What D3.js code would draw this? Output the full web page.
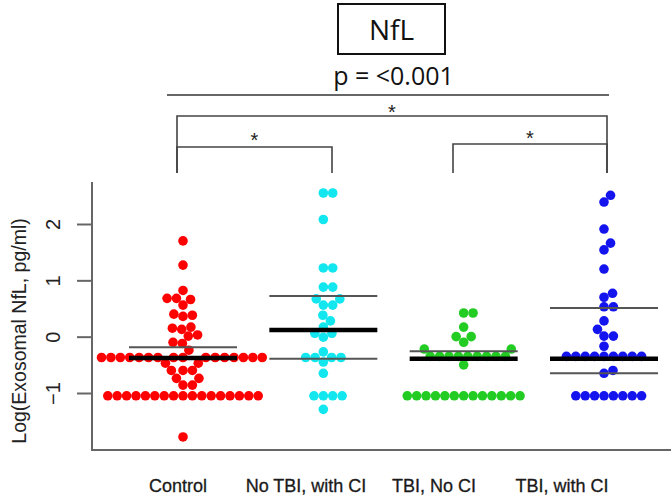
<!DOCTYPE html>
<html><head><meta charset="utf-8">
<script src="https://cdn.jsdelivr.net/npm/d3@7"></script>
<style>html,body{margin:0;padding:0;background:#fff;}svg{display:block;}</style>
</head><body>
<svg id="c" width="671" height="498"></svg>
<script>
// ---------- data ----------
const groups = ["Control", "No TBI, with CI", "TBI, No CI", "TBI, with CI"];
const colors = ["#ff0000", "#12e6ee", "#22cc22", "#1414ee"];
const controlVals = [1.7, 1.27, 0.82, 0.68, 0.68, 0.66, 0.56, 0.4, 0.36, 0.38, 0.15, 0.17, 0.13, 0.03, 0.01, -0.12, -0.1, -0.24,
  -0.37,-0.37,-0.37,-0.37,-0.37,-0.37,-0.37,-0.37,-0.37,-0.37,-0.37,-0.37,-0.37,-0.37,-0.37,-0.37,
  -0.47, -0.47, -0.6, -0.6, -0.6, -0.74, -0.74, -0.86, -0.86,
  -1.05,-1.05,-1.05,-1.05,-1.05,-1.05,-1.05,-1.05,-1.05,-1.05,-1.05,-1.05,-1.05,-1.05,-1.05,-1.05,-1.05,
  -1.78];
const noTbiCiVals = [2.55, 2.55, 2.08, 1.22, 1.22, 0.88, 0.88, 0.67, 0.67, 0.56, 0.56, 0.38, 0.28, 0.17, 0.06, 0.06, -0.01,
  -0.27, -0.37, -0.37, -0.37, -0.37, -0.45, -0.65, -1.05, -1.05, -1.05, -1.05, -1.29];
const tbiNoCiVals = [0.42, 0.42, 0.17, 0.0, 0.0, -0.1, -0.22, -0.22,
  -0.35,-0.35,-0.35,-0.35,-0.35,-0.35,-0.35,-0.35,-0.35,
  -0.5,
  -1.05,-1.05,-1.05,-1.05,-1.05,-1.05,-1.05,-1.05,-1.05,-1.05,-1.05,-1.05,-1.05];
const tbiCiVals = [2.51, 2.39, 1.91, 1.66, 1.54, 1.2, 0.77, 0.7, 0.53, 0.53, 0.28, 0.13, 0.01, 0.01, -0.17,
  -0.35,-0.35,-0.35,-0.35,-0.35,-0.35,-0.35,-0.35,-0.35,
  -0.6, -0.65,
  -1.05,-1.05,-1.05,-1.05,-1.05,-1.05,-1.05,-1.05];
const seriesValues = [controlVals, noTbiCiVals, tbiNoCiVals, tbiCiVals];
const medians = [-0.38, 0.12, -0.39, -0.39];
const upperLines = [-0.19, 0.72, -0.26, 0.51];
const lowerLines = [null, -0.39, null, -0.65];
const yTicks = [-1, 0, 1, 2];
const yTickLabels = ["\u22121", "0", "1", "2"];
const yTitle = "Log(Exosomal NfL, pg/ml)";
const title = "NfL";
const pText = "p = <0.001";
// comparisons: [groupA, groupB, level]
const comparisons = [[0, 3, "big"], [0, 1, "left"], [2, 3, "right"]];

// ---------- layout ----------
const svg = d3.select("#c");
const y = d3.scaleLinear().domain([-1, 2]).range([393, 224]);
const x = d3.scalePoint().domain(groups).range([183, 604]);
const xLab = d3.scalePoint().domain(groups).range([178, 562]);
const R = 4.8, D = 9.4;

function swarm(vals, cx) {
  const pts = vals.map(v => ({v, py: y(v)})).sort((a, b) => a.v - b.v);
  const placed = [];
  for (const p of pts) {
    const cands = [0];
    for (const q of placed) {
      const dy = Math.abs(p.py - q.py);
      if (dy < D) { const dx = Math.sqrt(D * D - dy * dy); cands.push(q.ox + dx, q.ox - dx); }
    }
    cands.sort((a, b) => Math.abs(a) - Math.abs(b) || b - a);
    for (const c of cands) {
      let ok = true;
      for (const q of placed) {
        const dx = c - q.ox, dy = p.py - q.py;
        if (dx * dx + dy * dy < D * D - 1e-6) { ok = false; break; }
      }
      if (ok) { p.ox = c; break; }
    }
    placed.push(p);
  }
  return placed.map(p => ({v: p.v, cx: cx + p.ox}));
}

// axes frame
const axisColor = "#666";
svg.append("line").attr("x1", 92).attr("x2", 92).attr("y1", 182).attr("y2", 450)
  .attr("stroke", axisColor).attr("stroke-width", 2);
svg.append("line").attr("x1", 91).attr("x2", 671).attr("y1", 450).attr("y2", 450)
  .attr("stroke", axisColor).attr("stroke-width", 2.2);

const yAxis = d3.axisLeft(y).tickValues(yTicks).tickSize(15).tickFormat((d, i) => yTickLabels[i]);
const ga = svg.append("g").attr("transform", "translate(92,0)").call(yAxis);
ga.select(".domain").remove();
ga.selectAll(".tick line").attr("stroke", axisColor).attr("stroke-width", 2);
ga.selectAll(".tick text")
  .attr("x", null).attr("dy", null)
  .attr("transform", "translate(-32,0) rotate(-90)")
  .attr("text-anchor", "middle")
  .attr("font-family", "Liberation Sans, Arial, sans-serif")
  .attr("font-size", 20).attr("fill", "#222");

svg.append("text").attr("transform", "translate(26,331) rotate(-90)")
  .attr("text-anchor", "middle").attr("font-family", "Liberation Sans, Arial, sans-serif")
  .attr("font-size", 19.5).attr("fill", "#222").text(yTitle);

// x labels
svg.append("g").selectAll("text").data(groups).join("text")
  .attr("x", d => xLab(d)).attr("y", 492).attr("text-anchor", "middle")
  .attr("font-family", "Liberation Sans, Arial, sans-serif").attr("font-size", 18)
  .attr("fill", "#1a1a1a").attr("stroke", "#1a1a1a").attr("stroke-width", 0.3).text(d => d);

// points
groups.forEach((g, i) => {
  const pts = swarm(seriesValues[i], x(g));
  svg.append("g").selectAll("circle").data(pts).join("circle")
    .attr("cx", d => d.cx).attr("cy", d => y(d.v)).attr("r", R).attr("fill", colors[i]);
});

// summary lines
const HW = 54;
groups.forEach((g, i) => {
  const cx = x(g);
  [[upperLines[i], 2, "#555"], [lowerLines[i], 2, "#555"], [medians[i], 4.5, "#000"]].forEach(([v, w, c]) => {
    if (v === null) return;
    svg.append("line").attr("x1", cx - HW).attr("x2", cx + HW).attr("y1", y(v)).attr("y2", y(v))
      .attr("stroke", c).attr("stroke-width", w);
  });
});

// title box
svg.append("rect").attr("x", 338).attr("y", 4).attr("width", 107).attr("height", 50)
  .attr("fill", "none").attr("stroke", "#111").attr("stroke-width", 2);
svg.append("text").attr("x", 391.5).attr("y", 40).attr("text-anchor", "middle")
  .attr("font-family", "Open Sans, sans-serif").attr("font-size", 28).attr("fill", "#111").text(title);
svg.append("text").attr("x", 393.5).attr("y", 85).attr("text-anchor", "middle")
  .attr("font-family", "Open Sans, sans-serif").attr("font-size", 25).attr("fill", "#111").text(pText);
svg.append("line").attr("x1", 167).attr("x2", 609).attr("y1", 95).attr("y2", 95)
  .attr("stroke", "#333").attr("stroke-width", 1.5);

// brackets
const br = {big: {top: 116, bottom: 173, star: 108}, left: {top: 147, bottom: 173, star: 136}, right: {top: 144, bottom: 173, star: 134}};
const xbAdj = (i) => [177, 332, 453, 607][i];
comparisons.forEach(([a, b, lvl]) => {
  const s = br[lvl];
  const x1 = xbAdj(a), x2 = xbAdj(b);
  svg.append("path").attr("d", `M${x1},${s.bottom}V${s.top}H${x2}V${s.bottom}`)
    .attr("fill", "none").attr("stroke", "#444").attr("stroke-width", 1.6);
  svg.append("text").attr("x", (x1 + x2) / 2).attr("y", s.star + 11).attr("text-anchor", "middle")
    .attr("font-family", "Liberation Sans, Arial, sans-serif").attr("font-size", 20).attr("fill", "#222").text("*");
});
</script>
</body></html>
